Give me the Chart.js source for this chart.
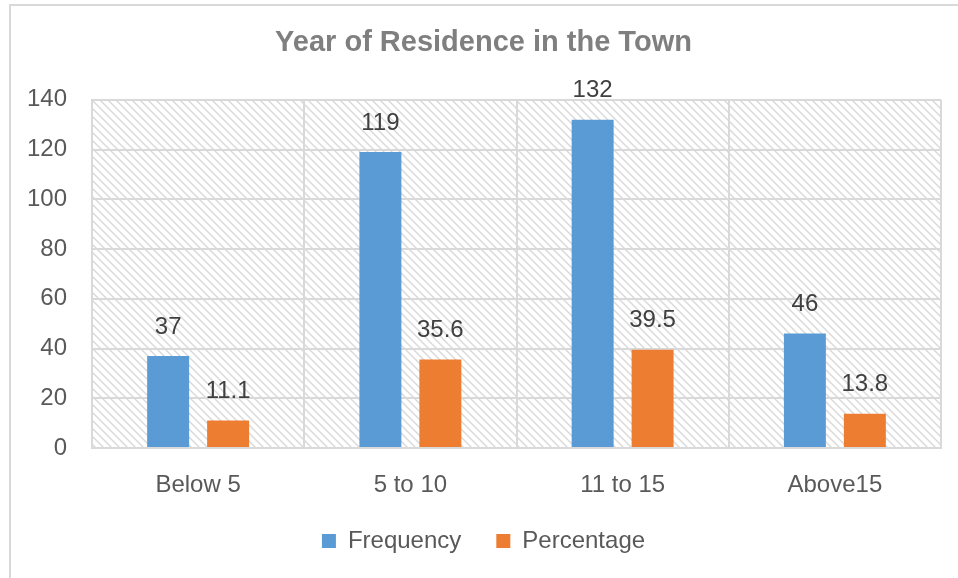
<!DOCTYPE html>
<html>
<head>
<meta charset="utf-8">
<script src="https://cdn.jsdelivr.net/npm/chart.js@4.4.1/dist/chart.umd.min.js"></script>
<style>
  html, body { margin: 0; padding: 0; background: #fff; }
  #wrap { width: 958px; height: 578px; }
</style>
</head>
<body>
<div id="wrap"><canvas id="residenceChart" width="958" height="578"></canvas></div>
<script>
const categories = ['Below 5', '5 to 10', '11 to 15', 'Above15'];
const frequency = [37, 119, 132, 46];
const percentage = [11.1, 35.6, 39.5, 13.8];
const yTicks = [0, 20, 40, 60, 80, 100, 120, 140];

const FONT = "'Liberation Sans', Arial, sans-serif";

// light downward diagonal hatch used behind the bars
function makeHatch(ctx) {
    const tile = document.createElement('canvas');
    tile.width = 8;
    tile.height = 8;
    const t = tile.getContext('2d');
    t.fillStyle = '#ffffff';
    t.fillRect(0, 0, 8, 8);
    t.strokeStyle = '#dadada';
    t.lineWidth = 1.5;
    t.beginPath();
    t.moveTo(-2, -2); t.lineTo(10, 10);
    t.moveTo(-2, 6); t.lineTo(2, 10);
    t.moveTo(6, -2); t.lineTo(10, 2);
    t.stroke();
    return ctx.createPattern(tile, 'repeat');
}

const hatchBackground = {
    id: 'hatchBackground',
    beforeDraw(chart) {
        const { ctx, chartArea: a } = chart;
        ctx.save();
        // outer frame
        ctx.strokeStyle = '#d9d9d9';
        ctx.lineWidth = 2;
        ctx.beginPath();
        ctx.moveTo(10, chart.height);
        ctx.lineTo(10, 5);
        ctx.lineTo(chart.width, 5);
        ctx.stroke();
        ctx.fillStyle = makeHatch(ctx);
        ctx.fillRect(a.left, a.top, a.right - a.left, a.bottom - a.top);
        ctx.restore();
    }
};

const valueLabels = {
    id: 'valueLabels',
    afterDatasetsDraw(chart) {
        const { ctx } = chart;
        ctx.save();
        ctx.font = '24px ' + FONT;
        ctx.fillStyle = '#404040';
        ctx.textAlign = 'center';
        ctx.textBaseline = 'middle';
        chart.data.datasets.forEach((ds, i) => {
            chart.getDatasetMeta(i).data.forEach((bar, j) => {
                ctx.fillText(String(ds.data[j]), bar.x, bar.y - 29);
            });
        });
        ctx.restore();
    }
};

new Chart(document.getElementById('residenceChart'), {
    type: 'bar',
    data: {
        labels: categories,
        datasets: [
            {
                label: 'Frequency',
                data: frequency,
                backgroundColor: '#5b9bd5',
                categoryPercentage: 0.565,
                barPercentage: 0.7
            },
            {
                label: 'Percentage',
                data: percentage,
                backgroundColor: '#ed7d31',
                categoryPercentage: 0.565,
                barPercentage: 0.7
            }
        ]
    },
    options: {
        responsive: false,
        animation: false,
        layout: { padding: { left: 26, right: 17, top: 0, bottom: 15 } },
        plugins: {
            title: {
                display: true,
                text: 'Year of Residence in the Town',
                color: '#7f7f7f',
                font: { family: FONT, size: 29, weight: 'bold' },
                padding: { top: 26, bottom: 39 }
            },
            legend: {
                position: 'bottom',
                labels: {
                    color: '#595959',
                    font: { family: FONT, size: 24 },
                    boxWidth: 14,
                    boxHeight: 14,
                    padding: 35
                }
            },
            tooltip: { enabled: false }
        },
        scales: {
            x: {
                afterFit(scale) { scale.height = 46; },
                grid: { color: '#d9d9d9', lineWidth: 2, drawTicks: false },
                border: { color: '#d9d9d9', width: 2 },
                ticks: {
                    color: '#595959',
                    font: { family: FONT, size: 24 },
                    padding: 23
                }
            },
            y: {
                min: 0,
                max: 140,
                afterFit(scale) { scale.width = 66; },
                afterBuildTicks(scale) { scale.ticks = yTicks.map(v => ({ value: v })); },
                grid: { color: '#d9d9d9', lineWidth: 2, drawTicks: false },
                border: { color: '#d9d9d9', width: 2 },
                ticks: {
                    color: '#595959',
                    font: { family: FONT, size: 24 },
                    padding: 25
                }
            }
        }
    },
    plugins: [hatchBackground, valueLabels]
});
</script>
</body>
</html>
